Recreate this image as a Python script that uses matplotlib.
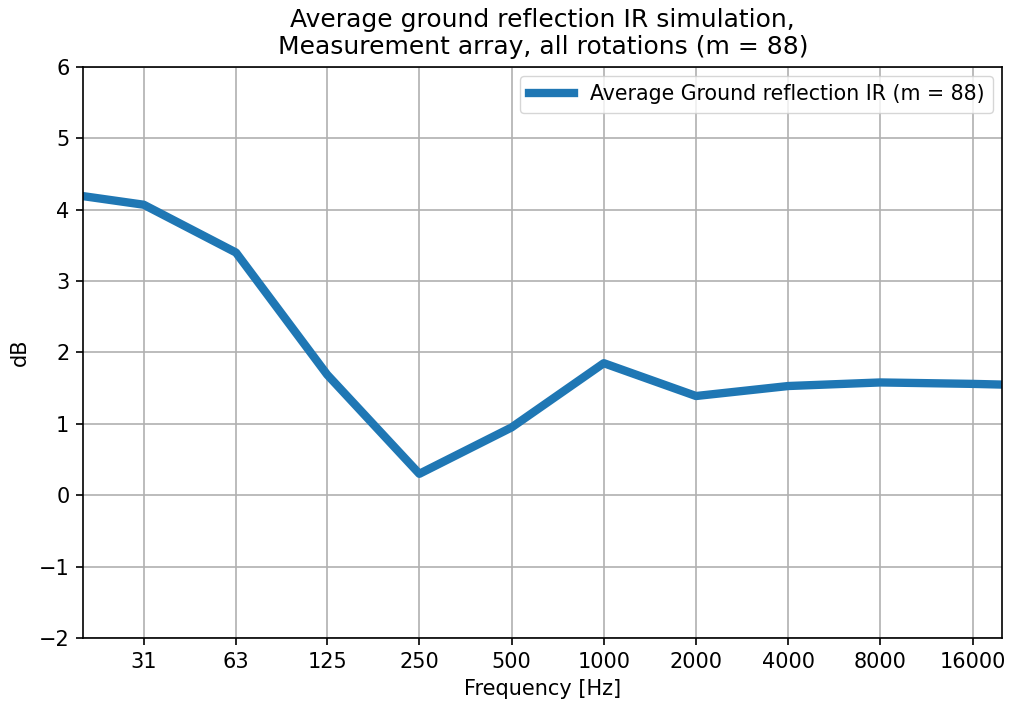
import matplotlib
matplotlib.use("Agg")
import matplotlib.pyplot as plt

# Octave-band frequencies (Hz) and averaged ground reflection level (dB)
freqs = [20, 31.5, 63, 125, 250, 500, 1000, 2000, 4000, 8000, 16000, 20000]
level_db = [4.19, 4.07, 3.40, 1.69, 0.30, 0.95, 1.85, 1.39, 1.53, 1.58, 1.56, 1.55]

tick_freqs = [31.5, 63, 125, 250, 500, 1000, 2000, 4000, 8000, 16000]
tick_labels = ["31", "63", "125", "250", "500", "1000", "2000", "4000", "8000", "16000"]

fig = plt.figure(figsize=(10.1, 7.02), dpi=100)
ax = fig.add_axes([0.0825, 0.0912, 0.9099, 0.8134])

ax.plot(freqs, level_db, color="#1f77b4", linewidth=6,
        label="Average Ground reflection IR (m = 88)")
ax.set_xscale("log")
ax.set_xlim(20, 20000)
ax.set_ylim(-2, 6)
ax.set_xticks(tick_freqs)
ax.set_xticklabels(tick_labels)
ax.minorticks_off()
ax.tick_params(labelsize=15, length=5, width=1.2, pad=5)
for s in ax.spines.values():
    s.set_linewidth(1.2)
ax.grid(True, color="#b0b0b0", linewidth=1.2)
ax.set_xlabel("Frequency [Hz]", fontsize=15, labelpad=5)
ax.set_ylabel("dB", fontsize=15, labelpad=6)
ax.set_title("Average ground reflection IR simulation,\nMeasurement array, all rotations (m = 88)",
             fontsize=18, pad=9)
ax.legend(loc="upper right", fontsize=14.8, handlelength=2.2, borderaxespad=0.45)

fig.savefig("out.png", dpi=100)
